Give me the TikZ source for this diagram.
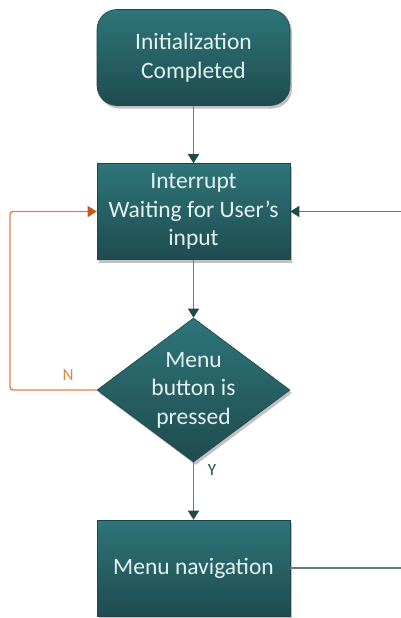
\documentclass[tikz,border=0pt]{standalone}
\usepackage{fontspec}
\setmainfont{Carlito}
\usetikzlibrary{shapes.geometric,arrows.meta,shadows,positioning}
\definecolor{tealtop}{HTML}{2E7579}
\definecolor{tealbot}{HTML}{1F4C4F}
\definecolor{tealedge}{HTML}{1D4547}
\definecolor{txt}{HTML}{E6F2F1}
\definecolor{linecol}{HTML}{5F8083}
\definecolor{headcol}{HTML}{1F4A4C}
\definecolor{orangeline}{HTML}{D8834F}
\definecolor{orangehead}{HTML}{C8581A}
\definecolor{orangetxt}{HTML}{E8843A}
\tikzset{
  flowbox/.style={draw=tealedge, line width=0.6pt, top color=tealtop, bottom color=tealbot,
    text=txt, align=center, font=\fontsize{23.5}{28.5}\selectfont,
    drop shadow={shadow xshift=2pt, shadow yshift=-3pt, opacity=0.35, fill=black!70}},
  procbox/.style={flowbox, rectangle, minimum width=193pt, minimum height=96pt, inner sep=0pt},
  termbox/.style={procbox, rounded corners=20pt},
  decbox/.style={flowbox, diamond, minimum width=193pt, minimum height=144pt, inner sep=0pt, aspect=1.34},
  conn/.style={draw=linecol, line width=1.4pt, -{Triangle[length=9pt,width=11pt,fill=headcol,color=headcol]}},
  plain/.style={draw=linecol, line width=1.4pt},
  noconn/.style={draw=orangeline, line width=1.4pt, rounded corners=3pt, -{Triangle[length=9pt,width=11pt,fill=orangehead,color=orangehead]}},
  lbl/.style={font=\fontsize{17}{20}\selectfont, inner sep=0pt}
}
\begin{document}
\begin{tikzpicture}[x=1pt,y=-1pt]
\useasboundingbox (0,0) rectangle (401,618);
\node[termbox] (init) at (193.5,57.5) {Initialization\\Completed};
\node[procbox] (wait) at (193.5,211.5) {Interrupt\\Waiting for User’s\\input};
\node[decbox] (dec) at (193.5,390) {Menu\\button is\\pressed};
\node[procbox] (menu) at (193.5,568) {Menu navigation};
\coordinate (rin) at (401,211.5);
\coordinate (rout) at (401,568);
\coordinate (lc) at (10,0);
\draw[conn] (init) -- (wait);
\draw[conn] (wait) -- (dec);
\draw[conn] (dec) -- (menu);
\draw[conn] (rin) -- (wait.east);
\draw[plain] (menu.east) -- (rout);
\draw[noconn] (dec.west) -- (lc |- dec.west) -- (lc |- wait.west) -- (wait.west);
\node[lbl, text=orangetxt] (nl) at (68,375) {N};
\node[lbl, text=headcol] (yl) at (212,470) {Y};
\end{tikzpicture}
\end{document}
